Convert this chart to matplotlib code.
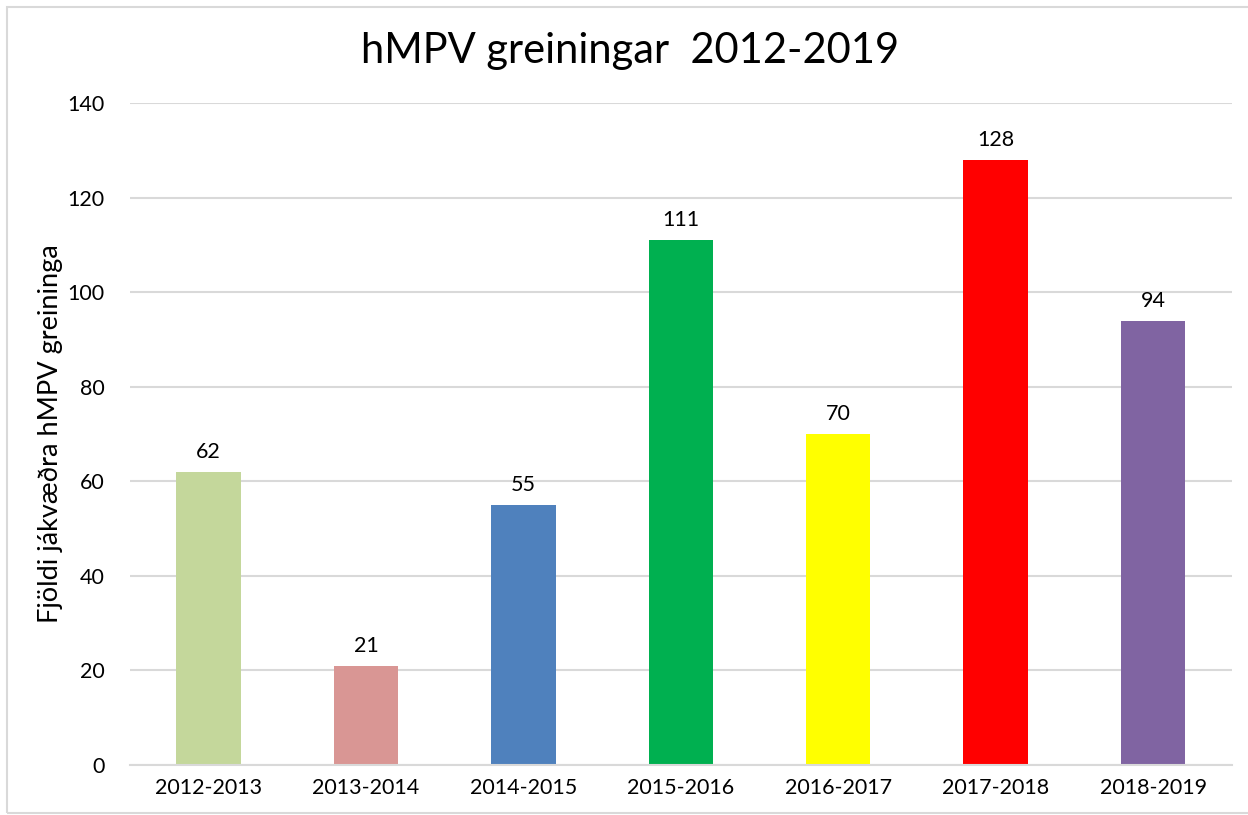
import matplotlib.pyplot as plt
from matplotlib.patches import Rectangle

seasons = ['2012-2013', '2013-2014', '2014-2015', '2015-2016',
           '2016-2017', '2017-2018', '2018-2019']
counts = [62, 21, 55, 111, 70, 128, 94]
colors = ['#C4D79B', '#D99694', '#4F81BD', '#00B050',
          '#FFFF00', '#FF0000', '#8064A2']

plt.rcParams['font.family'] = ['Lato', 'DejaVu Sans']

fig = plt.figure(figsize=(12.48, 8.15), dpi=100)
ax = fig.add_axes([0.104, 0.0613, 0.883, 0.8123])

x = range(len(seasons))
bars = ax.bar(x, counts, width=0.41, color=colors, zorder=3)
for xi, v in zip(x, counts):
    ax.annotate(str(v), (xi, v), xytext=(0, 7), textcoords='offset points',
                ha='center', va='bottom', fontsize=15.5)

ax.set_xlim(-0.5, len(seasons) - 0.5)
ax.set_ylim(0, 140)
ax.set_yticks(range(0, 141, 20))
ax.set_xticks(list(x))
ax.set_xticklabels(seasons)
ax.tick_params(axis='both', length=0, labelsize=15.5)
ax.tick_params(axis='y', pad=18)
ax.tick_params(axis='x', pad=9)
ax.grid(axis='y', color='#D9D9D9', linewidth=1.5, zorder=0)
for s in ['top', 'right', 'left']:
    ax.spines[s].set_visible(False)
ax.spines['bottom'].set_color('#D9D9D9')
ax.spines['bottom'].set_linewidth(1.5)
ax.spines['bottom'].set_zorder(4)

ax.set_ylabel('Fjöldi jákvæðra hMPV greininga', fontsize=19.5, labelpad=3)
fig.text(0.505, 0.938, 'hMPV greiningar  2012-2019', ha='center', va='center',
         fontsize=30)

fig.patches.append(Rectangle((0.006, 0.003), 1.2, 0.988, transform=fig.transFigure,
                             fill=False, edgecolor='#D9D9D9', linewidth=1.5))

fig.savefig('out.png', dpi=100)
